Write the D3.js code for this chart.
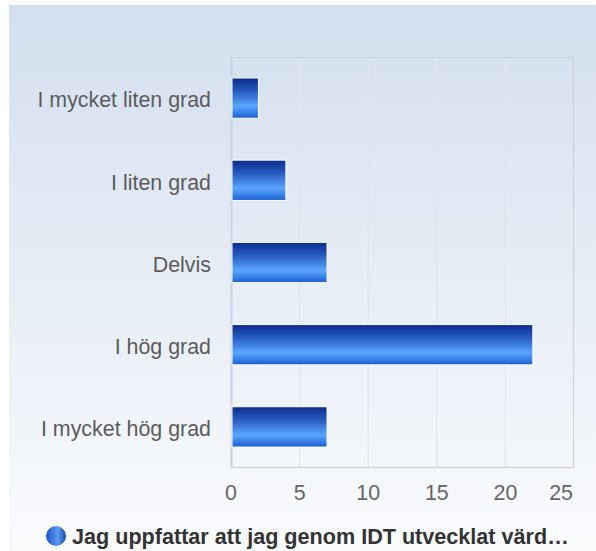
<!DOCTYPE html>
<html>
<head>
<meta charset="utf-8">
<script src="https://cdn.jsdelivr.net/npm/d3@7"></script>
<style>
  html, body { margin: 0; padding: 0; background: #fff; }
  svg { display: block; font-family: "Liberation Sans", Arial, sans-serif; }
</style>
</head>
<body>
<div id="chart"></div>
<script>
// data
var categories = ["I mycket liten grad", "I liten grad", "Delvis", "I hög grad", "I mycket hög grad"];
var values = [2, 4, 7, 22, 7];
var ticks = [0, 5, 10, 15, 20, 25];
var seriesName = "Jag uppfattar att jag genom IDT utvecklat värd…";

var width = 596, height = 551;
var margin = {left: 231, top: 57, right: 22, bottom: 83};

var svg = d3.select("#chart").append("svg")
    .attr("width", width)
    .attr("height", height);

var defs = svg.append("defs");

var bg = defs.append("linearGradient").attr("id", "bg")
    .attr("x1", 0).attr("y1", 0).attr("x2", 0).attr("y2", 1);
bg.append("stop").attr("offset", "0%").attr("stop-color", "#d3dfef");
bg.append("stop").attr("offset", "100%").attr("stop-color", "#fafbfd");

var barGrad = defs.append("linearGradient").attr("id", "barGrad")
    .attr("x1", 0).attr("y1", 0).attr("x2", 0).attr("y2", 1);
barGrad.append("stop").attr("offset", "0%").attr("stop-color", "#0a2c8c");
barGrad.append("stop").attr("offset", "35%").attr("stop-color", "#2a5fc4");
barGrad.append("stop").attr("offset", "70%").attr("stop-color", "#5aa6ff");
barGrad.append("stop").attr("offset", "100%").attr("stop-color", "#1b5fd2");

var dotGrad = defs.append("linearGradient").attr("id", "dotGrad")
    .attr("x1", 0).attr("y1", 0).attr("x2", 1).attr("y2", 0);
dotGrad.append("stop").attr("offset", "0%").attr("stop-color", "#1d55c6");
dotGrad.append("stop").attr("offset", "60%").attr("stop-color", "#5c9cf0");
dotGrad.append("stop").attr("offset", "100%").attr("stop-color", "#1645a8");

// panel background
svg.append("rect")
    .attr("x", 9).attr("y", 5)
    .attr("width", width - 9).attr("height", height - 5)
    .attr("fill", "url(#bg)");

var plotW = width - margin.left - margin.right;
var plotH = height - margin.top - margin.bottom;

var x = d3.scaleLinear().domain([0, 25]).range([margin.left, margin.left + plotW]);
var y = d3.scaleBand().domain(categories)
    .range([margin.top, margin.top + plotH])
    .paddingInner(0.51).paddingOuter(0.255);

// grid lines
svg.append("g").selectAll("line")
    .data(ticks.slice(1, -1))
    .enter().append("line")
    .attr("x1", function(d) { return x(d); })
    .attr("x2", function(d) { return x(d); })
    .attr("y1", margin.top).attr("y2", margin.top + plotH)
    .attr("stroke", "#e2e4e8").attr("stroke-width", 1);

// plot border
svg.append("rect")
    .attr("x", margin.left + 0.5).attr("y", margin.top + 0.5)
    .attr("width", plotW - 1).attr("height", plotH - 1)
    .attr("fill", "none").attr("stroke", "#cfd2d6").attr("stroke-width", 1.2);

// left axis line
svg.append("line")
    .attr("x1", margin.left + 0.5).attr("x2", margin.left + 0.5)
    .attr("y1", margin.top).attr("y2", margin.top + plotH)
    .attr("stroke", "#c9d3e4").attr("stroke-width", 2);

// bars
svg.append("g").selectAll("rect")
    .data(values)
    .enter().append("rect")
    .attr("x", x(0) + 1)
    .attr("y", function(d, i) { return y(categories[i]); })
    .attr("width", function(d) { return x(d) - x(0) - 1; })
    .attr("height", y.bandwidth())
    .attr("fill", "url(#barGrad)")
    .attr("stroke", "#ffffff").attr("stroke-width", 1);

// category labels
svg.append("g").selectAll("text")
    .data(categories)
    .enter().append("text")
    .attr("x", margin.left - 20)
    .attr("y", function(d) { return y(d) + y.bandwidth() / 2 + 1.5; })
    .attr("dy", "0.36em")
    .attr("text-anchor", "end")
    .attr("font-size", 21.4)
    .attr("fill", "#5c5c5c")
    .text(function(d) { return d; });

// tick labels (last one pulled inside the plot edge)
svg.append("g").selectAll("text")
    .data(ticks)
    .enter().append("text")
    .attr("x", function(d, i) { return i === ticks.length - 1 ? x(d) - 1 : x(d); })
    .attr("y", margin.top + plotH + 32)
    .attr("text-anchor", function(d, i) { return i === ticks.length - 1 ? "end" : "middle"; })
    .attr("font-size", 21.4)
    .attr("fill", "#666")
    .text(function(d) { return d; });

// legend
svg.append("circle")
    .attr("cx", 56).attr("cy", 536).attr("r", 10)
    .attr("fill", "url(#dotGrad)");
svg.append("text")
    .attr("x", 72).attr("y", 544)
    .attr("font-size", 21.6)
    .attr("font-weight", "bold")
    .attr("fill", "#333")
    .text(seriesName);
</script>
</body>
</html>
